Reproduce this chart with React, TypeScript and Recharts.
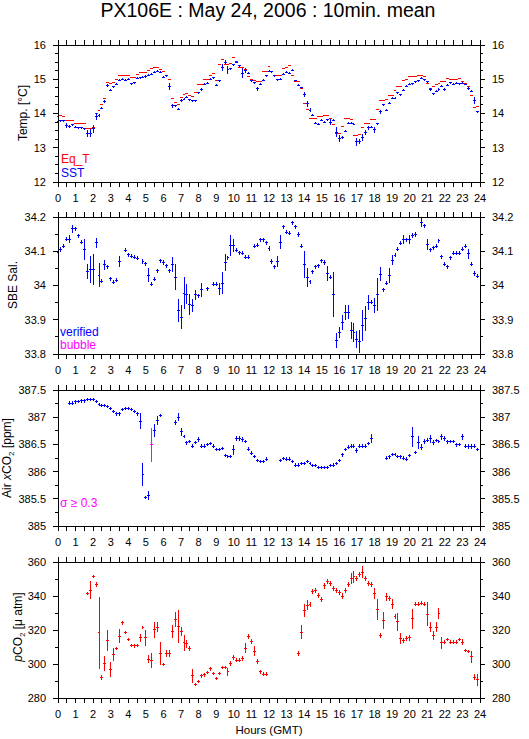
import React from 'react';
import { ComposedChart, Scatter, XAxis, YAxis, ErrorBar } from 'recharts';

const FONT = '"Liberation Sans", Arial, Helvetica, sans-serif';
const RED = '#ff0000';
const BLUE = '#0000ff';
const MAGENTA = '#ff00ff';

// x-axis tick positions (every half hour, labels on whole hours)
const HOUR_TICKS = Array.from({ length: 49 }, (_, k) => k / 2);
// 10-minute slots of the day (hours)
const SLOT_HOURS = Array.from({ length: 144 }, (_, i) => i / 6);
const HALF_SLOT = 1 / 12;

const EQ_T = [
  13.92, 13.93, 13.92, 13.80, 13.79, 13.80, 13.71, 13.71, 13.71, 13.70, 13.56, 13.55,
  13.60, 14.00, 14.09, 14.26, 14.45, 14.90, 14.88, 14.90, 14.98, 15.10, 15.12, 15.10,
  15.10, 15.05, 15.05, 15.15, 15.19, 15.19, 15.19, 15.27, 15.30, 15.33, 15.35, 15.28,
  15.22, 15.12, 14.98, 14.43, 14.33, 14.27, 14.48, 14.55, 14.57, 14.52, 14.50, 14.60,
  14.85, 14.85, 15.00, 15.00, 15.10, 15.18, 14.97, 15.42, 15.57, 15.43, 15.43, 15.45,
  15.64, 15.51, 15.35, 15.33, 15.28, 15.07, 15.00, 14.95, 14.93, 14.93, 15.22, 15.22,
  15.36, 15.22, 15.12, 15.10, 15.10, 15.31, 15.33, 15.40, 15.10, 14.94, 14.94, 14.74,
  14.30, 14.12, 13.86, 13.86, 13.86, 13.91, 13.91, 13.93, 13.93, 13.85, 13.69, 13.42,
  13.42, 13.63, 13.85, 13.85, 13.82, 13.35, 13.35, 13.40, 13.58, 13.72, 13.72, 13.83,
  13.83, 14.13, 14.39, 14.39, 14.40, 14.53, 14.53, 14.66, 14.79, 14.79, 14.96, 14.98,
  15.08, 15.08, 15.08, 15.12, 15.12, 15.08, 14.87, 14.74, 14.80, 14.85, 14.89, 14.92,
  14.92, 15.01, 15.00, 15.00, 15.00, 15.02, 14.92, 14.88, 14.80, 14.54, 14.17, 14.21,
];

const SST = [
  13.78, 13.79, 13.79, 13.65, 13.62, 13.67, 13.60, 13.58, 13.58, 13.56, 13.42, 13.42,
  13.55, 13.92, 13.95, 14.15, 14.35, 14.82, 14.68, 14.78, 14.85, 14.97, 15.00, 14.97,
  15.00, 14.87, 14.90, 15.03, 15.05, 15.06, 15.08, 15.12, 15.15, 15.20, 15.23, 15.20,
  15.06, 15.10, 14.80, 14.23, 14.22, 14.12, 14.38, 14.42, 14.48, 14.40, 14.37, 14.37,
  14.60, 14.70, 14.85, 14.88, 15.00, 15.05, 14.82, 14.95, 15.35, 15.50, 15.28, 15.30,
  15.42, 15.50, 15.40, 15.18, 15.25, 15.18, 14.95, 14.90, 14.72, 14.85, 14.97, 15.10,
  15.23, 15.22, 15.10, 14.98, 15.00, 15.15, 15.20, 15.18, 15.27, 14.95, 14.82, 14.75,
  14.55, 14.28, 14.10, 13.95, 13.72, 13.68, 13.80, 13.75, 13.82, 13.75, 13.80, 13.45,
  13.27, 13.30, 13.48, 13.72, 13.72, 13.68, 13.17, 13.18, 13.30, 13.45, 13.58, 13.60,
  13.52, 13.70, 14.05, 14.25, 14.10, 14.30, 14.45, 14.45, 14.60, 14.55, 14.68, 14.80,
  14.85, 14.87, 14.93, 14.95, 15.03, 14.98, 14.92, 14.70, 14.58, 14.65, 14.70, 14.80,
  14.70, 14.82, 14.90, 14.85, 14.88, 14.87, 14.88, 14.85, 14.73, 14.65, 14.38, 14.05,
];

const SST_ERR = [
  .03, .03, .03, .08, .03, .03, .03, .03, .03, .03, .10, .12,
  .12, .10, .05, .03, .03, .05, .03, .03, .03, .03, .03, .03,
  .03, .03, .03, .03, .03, .03, .03, .03, .03, .03, .03, .03,
  .03, .03, .10, .06, .03, .03, .03, .03, .03, .03, .03, .03,
  .03, .03, .03, .03, .03, .03, .03, .03, .10, .06, .12, .03,
  .03, .03, .03, .15, .08, .03, .03, .03, .06, .03, .03, .03,
  .03, .03, .03, .03, .03, .03, .03, .03, .03, .03, .03, .03,
  .07, .08, .05, .03, .03, .03, .03, .03, .03, .10, .03, .15,
  .10, .05, .03, .03, .03, .03, .12, .08, .10, .08, .06, .03,
  .08, .03, .06, .03, .03, .03, .03, .03, .03, .03, .03, .03,
  .03, .03, .03, .03, .03, .03, .03, .05, .03, .03, .03, .03,
  .03, .03, .03, .03, .03, .03, .03, .03, .03, .03, .10, .03,
];

const SAL = [
  34.096, 34.105, 34.115, 34.135, 34.135, 34.165, 34.165, 34.145, 34.127, 34.105, 34.040, 34.047,
  34.047, 34.125, 34.030, 34.013, 34.060, 34.055, 34.020, 34.010, 34.015, 34.070, null, 34.103,
  34.090, 34.085, 34.083, 34.080, null, 34.070, 34.064, 34.030, 34.004, 34.018, 34.043, 34.072,
  34.067, 34.057, 34.043, 34.062, 34.024, 33.928, 33.908, 33.978, 33.975, 33.944, 33.942, 33.973,
  33.970, 33.987, null, 33.990, null, 34.004, 34.004, 33.990, 34.007, 34.067, 34.081, 34.117,
  34.117, 34.103, 34.096, 34.094, 34.083, 34.083, null, 34.115, 34.117, 34.134, 34.134, 34.125,
  34.108, 34.070, 34.055, 34.070, 34.127, 34.171, 34.156, 34.152, 34.183, 34.171, 34.149, 34.115,
  34.062, 34.024, 34.011, 34.040, 34.055, 34.057, 34.072, 34.067, 34.036, 34.024, 33.973, 33.840,
  33.863, 33.893, 33.922, 33.922, 33.869, 33.863, 33.842, 33.837, 33.884, 33.903, 33.951, 33.951,
  33.942, 33.975, 34.033, 33.987, 34.007, 34.030, 34.074, 34.088, 34.106, 34.123, 34.134, 34.134,
  34.134, 34.146, 34.149, null, 34.185, 34.175, 34.120, 34.104, 34.110, 34.115, 34.130, 34.084,
  34.062, 34.055, 34.081, 34.094, 34.094, 34.094, 34.106, 34.115, 34.093, 34.062, 34.035, 34.027,
];

const SAL_ERR = [
  .006, .006, .006, .006, .012, .013, .006, .006, .006, .030, .022, .040,
  .046, .015, .035, .006, .015, .006, .006, .006, .006, .015, 0, .006,
  .006, .006, .006, .006, 0, .006, .006, .020, .006, .006, .006, .006,
  .006, .006, .006, .022, .038, .034, .034, .048, .030, .030, .020, .015,
  .006, .020, 0, .006, 0, .006, .006, .017, .032, .024, .006, .030,
  .020, .006, .006, .006, .006, .006, 0, .006, .006, .006, .006, .006,
  .006, .006, .006, .017, .020, .006, .006, .006, .006, .006, .006, .006,
  .039, .027, .006, .006, .006, .006, .006, .006, .022, .006, .065, .022,
  .015, .022, .022, .020, .024, .027, .024, .034, .045, .036, .022, .006,
  .022, .048, .020, .006, .006, .022, .015, .006, .006, .006, .012, .006,
  .013, .006, .006, 0, .015, .006, .015, .006, .006, .006, .006, .006,
  .006, .006, .006, .006, .006, .006, .006, .006, .015, .006, .006, .006,
];

const AIR_CO2 = [
  null, null, null, null, 387.26, 387.26, 387.28, 387.29, 387.30, 387.30, 387.32, 387.33,
  387.32, 387.29, 387.23, 387.21, 387.21, 387.20, 387.16, 387.10, 387.06, 387.06, 387.14, 387.16,
  387.16, 387.14, 387.11, 387.06, 386.93, 385.95, 385.52, 385.56, 386.49, 386.76, 386.94, 387.03,
  null, null, null, null, 386.90, 387.00, 386.73, 386.65, 386.53, 386.55, 386.47, 386.53,
  386.59, 386.47, 386.47, 386.50, 386.52, 386.47, 386.41, 386.41, 386.43, 386.30, 386.28, 386.28,
  386.40, 386.61, 386.61, 386.59, 386.56, 386.41, 386.34, 386.28, 386.20, 386.19, 386.19, 386.23,
  null, null, null, null, 386.20, 386.24, 386.23, 386.23, 386.19, 386.12, 386.12, 386.15,
  386.15, 386.18, 386.15, 386.11, 386.11, 386.08, 386.08, 386.08, 386.08, 386.11, 386.12, 386.15,
  386.21, 386.31, 386.41, 386.45, 386.47, 386.47, 386.39, 386.47, 386.47, 386.47, 386.51, 386.61,
  null, null, null, null, 386.25, 386.27, 386.31, 386.31, 386.28, 386.27, 386.25, 386.23,
  386.29, 386.64, 386.35, 386.53, 386.45, 386.55, 386.58, 386.60, 386.53, 386.57, 386.56, 386.64,
  386.61, 386.55, 386.55, 386.55, 386.49, 386.50, 386.64, 386.47, 386.46, 386.46, 386.47, 386.41,
];

const AIR_ERR = [
  0, 0, 0, 0, .03, .03, .03, .03, .03, .03, .03, .03,
  .03, .03, .03, .03, .03, .03, .03, .03, .03, .03, .03, .03,
  .03, .03, .03, .03, .15, .21, .03, .08, .32, .12, .08, .03,
  0, 0, 0, 0, .04, .07, .07, .03, .04, .03, .04, .03,
  .04, .03, .03, .03, .03, .03, .03, .03, .03, .03, .03, .03,
  .09, .04, .04, .04, .03, .04, .03, .03, .03, .03, .03, .03,
  0, 0, 0, 0, .03, .03, .03, .03, .03, .03, .03, .03,
  .03, .03, .03, .03, .03, .03, .03, .03, .03, .03, .03, .03,
  .03, .04, .03, .04, .04, .03, .04, .03, .03, .03, .03, .09,
  0, 0, 0, 0, .03, .03, .03, .03, .03, .03, .03, .03,
  .03, .18, .03, .12, .05, .05, .04, .08, .05, .03, .03, .06,
  .04, .04, .03, .03, .04, .03, .06, .04, .04, .04, .04, .03,
];

const PCO2 = [
  null, null, null, null, null, null, null, null, null, null, 341.6, 343.3,
  351.3, 346.8, 318.4, 292.0, 300.3, 313.9, 296.5, 305.8, 309.1, 316.4, 324.2, 318.4,
  314.3, 311.0, 310.6, 311.0, 315.3, 321.6, 315.3, 302.9, 301.9, 320.1, 321.6, 306.2,
  299.8, 306.2, 306.2, 319.1, 326.1, 322.2, 319.1, 312.4, 311.8, 309.1, 293.0, 288.1,
  289.7, 293.0, 293.6, 294.9, 297.1, 294.5, 291.6, 294.5, 297.8, 297.8, 295.5, 300.3,
  304.0, 302.3, 302.3, 303.2, 309.4, 316.4, 313.3, 307.5, 301.5, 295.3, 294.1, 294.1,
  null, null, null, null, null, null, null, null, null, null, 306.2, 318.7,
  331.3, 334.6, 335.2, 342.4, 343.0, 340.4, 338.1, 345.9, 348.4, 347.4, 344.5, 343.5,
  342.0, 340.0, 343.0, 346.8, 350.3, 351.3, 350.1, 352.6, 354.0, 350.3, 347.4, 346.8,
  341.6, 331.9, 316.8, 325.5, 339.5, 338.5, 335.2, 328.0, 324.9, 314.9, 313.9, 314.9,
  315.3, 326.5, 335.2, 335.2, 335.8, 335.2, 329.4, 321.6, 316.8, 321.6, 329.8, 312.5,
  312.9, 314.5, 312.9, 312.9, 312.9, 314.5, 312.9, 307.9, 307.5, 304.2, 292.2, 290.7,
];

const PCO2_ERR = [
  0, 0, 0, 0, 0, 0, 0, 0, 0, 0, 1.0, 5.3,
  1.0, 1.5, 21.3, 1.5, 4.4, 6.3, 4.4, 3.9, 1.0, 3.9, 1.0, 1.0,
  1.0, 1.0, 1.0, 1.0, 2.4, 1.0, 4.8, 2.4, 4.4, 4.8, 2.9, 6.8,
  1.0, 1.9, 1.9, 3.9, 4.4, 9.7, 2.9, 4.8, 2.4, 1.5, 3.9, 1.0,
  1.0, 1.0, 1.0, 1.0, 1.0, 1.0, 1.0, 1.0, 1.0, 1.0, 2.4, 1.5,
  1.5, 1.0, 1.0, 1.5, 2.9, 1.5, 1.5, 2.9, 1.5, 1.0, 1.0, 1.0,
  0, 0, 0, 0, 0, 0, 0, 0, 0, 0, 1.5, 4.0,
  3.9, 2.9, 1.5, 1.5, 1.5, 1.5, 1.5, 1.5, 1.5, 1.5, 1.5, 1.5,
  1.5, 1.5, 1.5, 1.5, 3.4, 3.4, 1.5, 1.5, 3.4, 1.5, 1.5, 1.5,
  3.4, 6.3, 1.5, 4.8, 2.4, 1.5, 2.9, 1.5, 5.3, 3.4, 1.5, 1.5,
  1.5, 5.8, 1.0, 1.0, 1.0, 1.0, 6.8, 2.9, 2.9, 2.9, 3.4, 3.4,
  1.0, 1.0, 1.0, 1.0, 1.0, 1.0, 1.9, 1.0, 1.0, 3.4, 1.9, 3.4,
];

// y-axis tick values
const TEMP_MAJOR = [12, 13, 14, 15, 16];
const TEMP_MINOR = [12.25, 12.5, 12.75, 13.25, 13.5, 13.75, 14.25, 14.5, 14.75, 15.25, 15.5, 15.75];
const SAL_MAJOR = [33.8, 33.9, 34.0, 34.1, 34.2];
const SAL_MINOR = [33.85, 33.95, 34.05, 34.15];
const AIR_MAJOR = [385, 385.5, 386, 386.5, 387, 387.5];
const AIR_MINOR = [385.25, 385.75, 386.25, 386.75, 387.25];
const PCO2_MAJOR = [280, 300, 320, 340, 360];
const PCO2_MINOR = [290, 310, 330, 350];

type Row = { h: number; v: number; e: number; xe: number };

function buildRows(values: (number | null)[], errs?: number[]): Row[] {
  const out: Row[] = [];
  values.forEach((v, i) => {
    if (v === null || v === undefined) return;
    out.push({ h: SLOT_HOURS[i], v, e: errs ? errs[i] : 0, xe: HALF_SLOT });
  });
  return out;
}

const fmtNum = (v: number) => String(Math.round(v * 100) / 100);

const YTick = (props: any) => {
  const { x, y, payload, side, major } = props;
  const v = payload.value;
  const isMajor = major.some((m: number) => Math.abs(m - v) < 1e-6);
  const dir = side === 'left' ? -1 : 1;
  const len = isMajor ? 5 : 3;
  return (
    <g>
      <line x1={x} y1={y} x2={x + dir * len} y2={y} stroke="#000" strokeWidth={1} />
      {isMajor && (
        <text
          x={x + dir * 12}
          y={y}
          dy="0.36em"
          textAnchor={side === 'left' ? 'end' : 'start'}
          fontSize={11}
          fontFamily={FONT}
          fill="#000"
        >
          {fmtNum(v)}
        </text>
      )}
    </g>
  );
};

// top axis: tick marks only
const TopTick = (props: any) => {
  const { x, y } = props;
  return <line x1={x} y1={y} x2={x} y2={y - 5} stroke="#000" strokeWidth={1} />;
};

const noMarker = () => <g />;

type Series = { rows: Row[]; color: string; yErr: boolean };

const MT = 8;
const XB = 26;

function Panel(props: {
  top: number;
  plotH: number;
  domain: [number, number];
  major: number[];
  minor: number[];
  series: Series[];
}) {
  const { top, plotH, domain, major, minor, series } = props;
  const ticks = [...major, ...minor].sort((a, b) => a - b);
  const H = MT + plotH + XB;
  return (
    <div style={{ position: 'absolute', left: 0, top: top - MT, width: 529, height: H, shapeRendering: 'crispEdges' } as any}>
      <ComposedChart width={529} height={H} margin={{ top: MT, right: 0, bottom: 0, left: 0 }}>
        <XAxis
          xAxisId="b"
          dataKey="h"
          type="number"
          domain={[0, 24]}
          ticks={HOUR_TICKS}
          interval={0}
          allowDataOverflow
          tickSize={5}
          tickMargin={7}
          height={XB}
          stroke="#000"
          tick={{ fontSize: 11, fill: '#000', fontFamily: FONT }}
          tickFormatter={(v: number) => (Number.isInteger(v) ? String(v) : '')}
        />
        <XAxis
          xAxisId="t"
          orientation="top"
          dataKey="h"
          type="number"
          domain={[0, 24]}
          ticks={HOUR_TICKS}
          interval={0}
          allowDataOverflow
          tickLine={false}
          tickSize={0}
          tickMargin={0}
          height={1}
          tick={<TopTick />}
          stroke="#000"
        />
        <YAxis
          yAxisId="l"
          dataKey="v"
          type="number"
          domain={domain}
          ticks={ticks}
          interval={0}
          allowDataOverflow
          width={58}
          tickLine={false}
          tickSize={0}
          tickMargin={0}
          stroke="#000"
          tick={<YTick side="left" major={major} />}
        />
        <YAxis
          yAxisId="r"
          orientation="right"
          dataKey="v"
          type="number"
          domain={domain}
          ticks={ticks}
          interval={0}
          allowDataOverflow
          width={49}
          tickLine={false}
          tickSize={0}
          tickMargin={0}
          stroke="#000"
          tick={<YTick side="right" major={major} />}
        />
        {series.map((s, k) => (
          <Scatter
            key={k}
            xAxisId="b"
            yAxisId="l"
            data={s.rows}
            dataKey="v"
            shape={noMarker}
            isAnimationActive={false}
          >
            <ErrorBar dataKey="xe" direction="x" width={0} stroke={s.color} strokeWidth={1} isAnimationActive={false} />
            {s.yErr && (
              <ErrorBar dataKey="e" direction="y" width={0} stroke={s.color} strokeWidth={1} isAnimationActive={false} />
            )}
          </Scatter>
        ))}
      </ComposedChart>
    </div>
  );
}

export default function App() {
  const eqRows = buildRows(EQ_T);
  const sstRows = buildRows(SST, SST_ERR);
  const salRows = buildRows(SAL, SAL_ERR);
  const airAll = buildRows(AIR_CO2, AIR_ERR);
  const airOk = airAll.filter((r) => r.e < 0.3);
  const airHigh = airAll.filter((r) => r.e >= 0.3);
  const pco2Rows = buildRows(PCO2, PCO2_ERR);

  const txt = { fontFamily: FONT, fontSize: 12 } as const;

  return (
    <div style={{ position: 'absolute', left: 0, top: 0, width: 529, height: 739, background: '#fff', overflow: 'hidden' }}>
      <Panel
        top={44}
        plotH={138}
        domain={[12, 16]}
        major={TEMP_MAJOR}
        minor={TEMP_MINOR}
        series={[
          { rows: eqRows, color: RED, yErr: false },
          { rows: sstRows, color: BLUE, yErr: true },
        ]}
      />
      <Panel
        top={216}
        plotH={138}
        domain={[33.8, 34.2]}
        major={SAL_MAJOR}
        minor={SAL_MINOR}
        series={[{ rows: salRows, color: BLUE, yErr: true }]}
      />
      <Panel
        top={389}
        plotH={137}
        domain={[385, 387.5]}
        major={AIR_MAJOR}
        minor={AIR_MINOR}
        series={[
          { rows: airOk, color: BLUE, yErr: true },
          { rows: airHigh, color: MAGENTA, yErr: true },
        ]}
      />
      <Panel
        top={561}
        plotH={137}
        domain={[280, 360]}
        major={PCO2_MAJOR}
        minor={PCO2_MINOR}
        series={[{ rows: pco2Rows, color: RED, yErr: true }]}
      />
      <svg
        width={529}
        height={739}
        style={{ position: 'absolute', left: 0, top: 0, pointerEvents: 'none' }}
      >
        <text x={268} y={17} textAnchor="middle" fontFamily={FONT} fontSize={19.5} fill="#000">
          PX106E : May 24, 2006 : 10min. mean
        </text>
        <text x={61} y={163} {...txt} fill={RED}>Eq_T</text>
        <text x={61} y={177} {...txt} fill={BLUE}>SST</text>
        <text x={60} y={336} {...txt} fill={BLUE}>verified</text>
        <text x={60} y={349} {...txt} fill={MAGENTA}>bubble</text>
        <text x={60} y={507} {...txt} fill={MAGENTA}>σ ≥ 0.3</text>
        <text transform="translate(23,113) rotate(-90)" textAnchor="middle" dy="0.35em" {...txt} fill="#000">
          Temp. [°C]
        </text>
        <text transform="translate(13,285) rotate(-90)" textAnchor="middle" dy="0.35em" {...txt} fill="#000">
          SBE Sal.
        </text>
        <text transform="translate(7,458) rotate(-90)" textAnchor="middle" dy="0.35em" {...txt} fill="#000">
          Air <tspan fontStyle="italic">x</tspan>CO<tspan fontSize={8} dy={3}>2</tspan>
          <tspan dy={-3}> [ppm]</tspan>
        </text>
        <text transform="translate(18,627) rotate(-90)" textAnchor="middle" dy="0.35em" {...txt} fill="#000">
          <tspan fontStyle="italic">p</tspan>CO<tspan fontSize={8} dy={3}>2</tspan>
          <tspan dy={-3}> [μ atm]</tspan>
        </text>
        <text x={269} y={734} textAnchor="middle" fontFamily={FONT} fontSize={11.5} fill="#000">
          Hours (GMT)
        </text>
      </svg>
    </div>
  );
}
